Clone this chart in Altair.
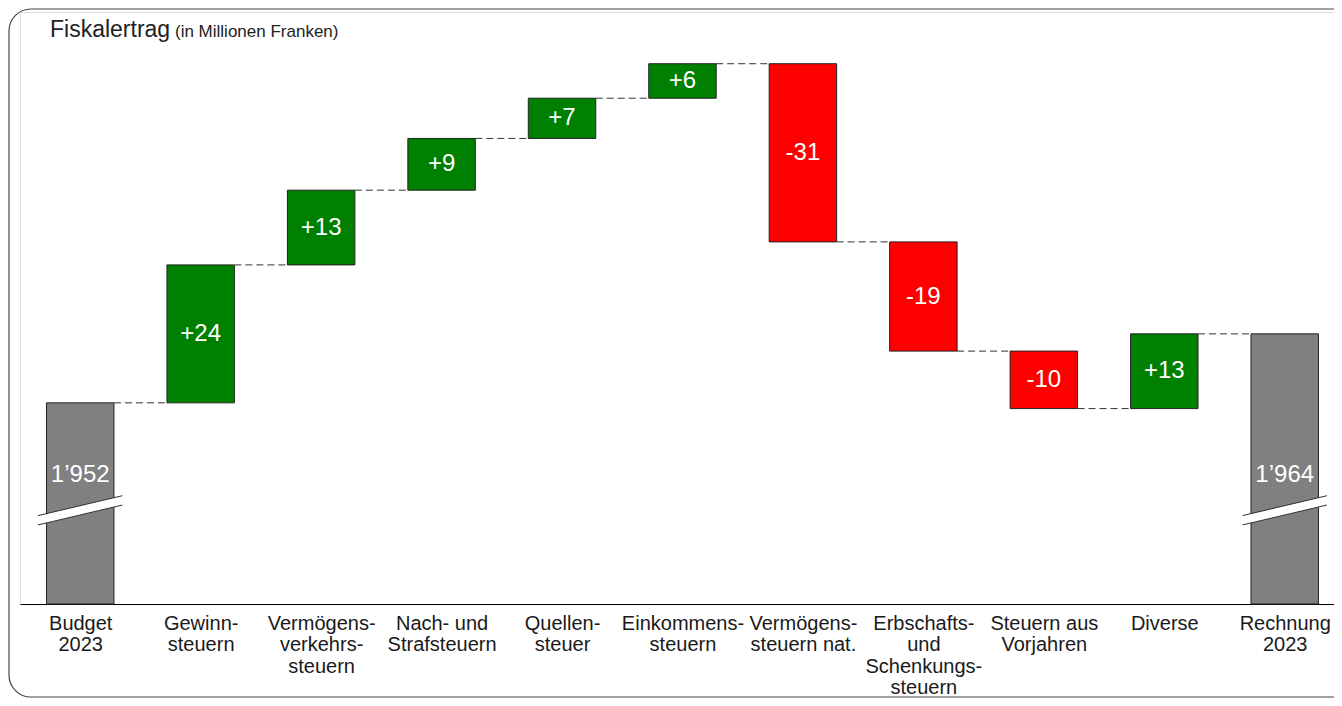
import json
import altair as alt
import pandas as pd

# ---------------- data ----------------
categories = [
    "Budget|2023", "Gewinn-|steuern", "Vermögens-|verkehrs-|steuern",
    "Nach- und|Strafsteuern", "Quellen-|steuer", "Einkommens-|steuern",
    "Vermögens-|steuern nat.", "Erbschafts-|und|Schenkungs-|steuern",
    "Steuern aus|Vorjahren", "Diverse", "Rechnung|2023",
]
budget_total = 1952
changes = [24, 13, 9, 7, 6, -31, -19, -10, 13]
rechnung_total = 1964
total_labels = ["1’952", "1’964"]

axis_floor = 1917      # value at the (broken) baseline
axis_top = 2020
break_level = 1933.3   # where the axis-break symbol sits
total_label_level = 1939.5

GREEN = "#008000"
RED = "#ff0000"
GRAY = "#808080"
FONT = "Liberation Sans"
HALF = 0.28

PLOT_W = 1314
PLOT_H = 592
STEP = 120.45

# ---------------- build tables ----------------
rows = [dict(idx=0, lo=axis_floor, hi=budget_total, end=budget_total,
             label=total_labels[0], ly=total_label_level, color=GRAY)]
run = budget_total
for i, d in enumerate(changes, start=1):
    new = run + d
    rows.append(dict(idx=i, lo=min(run, new), hi=max(run, new), end=new,
                     label=("+%d" % d) if d > 0 else ("%d" % d),
                     ly=(run + new) / 2, color=GREEN if d > 0 else RED))
    run = new
rows.append(dict(idx=len(categories) - 1, lo=axis_floor, hi=rechnung_total,
                 end=rechnung_total, label=total_labels[1],
                 ly=total_label_level, color=GRAY))
bars = pd.DataFrame(rows)
bars["x1"] = bars["idx"] - HALF
bars["x2"] = bars["idx"] + HALF

conn = pd.DataFrame({
    "xa": [r["idx"] + HALF for r in rows[:-1]],
    "xb": [r["idx"] + 1 - HALF for r in rows[:-1]],
    "lvl": [r["end"] for r in rows[:-1]],
})

brk_rows = []
for idx in (0, len(categories) - 1):
    for part, off in (("band", 0.0), ("up", 0.81), ("dn", -0.81)):
        brk_rows.append(dict(g="%d%s" % (idx, part), part=part, x=idx - 0.35, y=break_level - 1.73 + off))
        brk_rows.append(dict(g="%d%s" % (idx, part), part=part, x=idx + 0.35, y=break_level + 1.73 + off))
brk = pd.DataFrame(brk_rows)

label_expr = json.dumps([c.split("|") for c in categories], ensure_ascii=False) + "[datum.value]"

xscale = alt.Scale(domain=[-0.5, -0.5 + PLOT_W / STEP], nice=False, zero=False)
yscale = alt.Scale(domain=[axis_floor, axis_top], nice=False, zero=False)

base = alt.Chart(bars)

bar_layer = base.mark_rect(stroke="#222222", strokeWidth=1).encode(
    x=alt.X("x1:Q", scale=xscale, axis=alt.Axis(
        values=list(range(len(categories))), labelExpr=label_expr, title=None,
        ticks=False, grid=False, domain=True, domainColor="#000000", domainWidth=1.2,
        labelFont=FONT, labelFontSize=20, labelColor="#1a1a1a", labelLineHeight=21.5,
        labelPadding=9, labelAngle=0, labelOverlap=False, labelFlush=False,
        labelBaseline="top", labelAlign="center")),
    x2="x2:Q",
    y=alt.Y("lo:Q", scale=yscale, axis=None),
    y2="hi:Q",
    fill=alt.Fill("color:N", scale=None),
)

text_layer = base.mark_text(font=FONT, fontSize=24, color="#ffffff", baseline="middle", align="center").encode(
    x=alt.X("idx:Q", scale=xscale),
    y=alt.Y("ly:Q", scale=yscale),
    text="label:N",
)

conn_layer = alt.Chart(conn).mark_rule(color="#333333", strokeWidth=1, strokeDash=[7, 4]).encode(
    x=alt.X("xa:Q", scale=xscale), x2="xb:Q", y=alt.Y("lvl:Q", scale=yscale),
)

band_layer = alt.Chart(brk).transform_filter("datum.part == 'band'").mark_line(
    color="#ffffff", strokeWidth=9, strokeCap="butt").encode(
    x=alt.X("x:Q", scale=xscale), y=alt.Y("y:Q", scale=yscale), detail="g:N")

edge_layer = alt.Chart(brk).transform_filter("datum.part != 'band'").mark_line(
    color="#333333", strokeWidth=1).encode(
    x=alt.X("x:Q", scale=xscale), y=alt.Y("y:Q", scale=yscale), detail="g:N")

one = pd.DataFrame({"k": [0]})
frame = alt.Chart(one).mark_rect(fill="transparent", stroke="#444444", strokeWidth=1.2, cornerRadius=22).encode(
    x=alt.value(-11), x2=alt.value(PLOT_W + 60), y=alt.value(-3), y2=alt.value(685))

title1 = alt.Chart(one).mark_text(font=FONT, fontSize=23, color="#222222", align="left", baseline="alphabetic").encode(
    x=alt.value(30), y=alt.value(25), text=alt.value("Fiskalertrag"))
title2 = alt.Chart(one).mark_text(font=FONT, fontSize=17, color="#222222", align="left", baseline="alphabetic").encode(
    x=alt.value(155), y=alt.value(25), text=alt.value("(in Millionen Franken)"))

chart = alt.layer(
    frame, bar_layer, conn_layer, band_layer, edge_layer, text_layer, title1, title2
).properties(
    width=PLOT_W, height=PLOT_H,
    padding={"left": 12, "top": 4, "right": 0, "bottom": 94},
    autosize=alt.AutoSizeParams(type="none"),
).configure_view(stroke=None).configure(background="white")

chart.save("out.html", embed_options={"renderer": "svg", "actions": False})
